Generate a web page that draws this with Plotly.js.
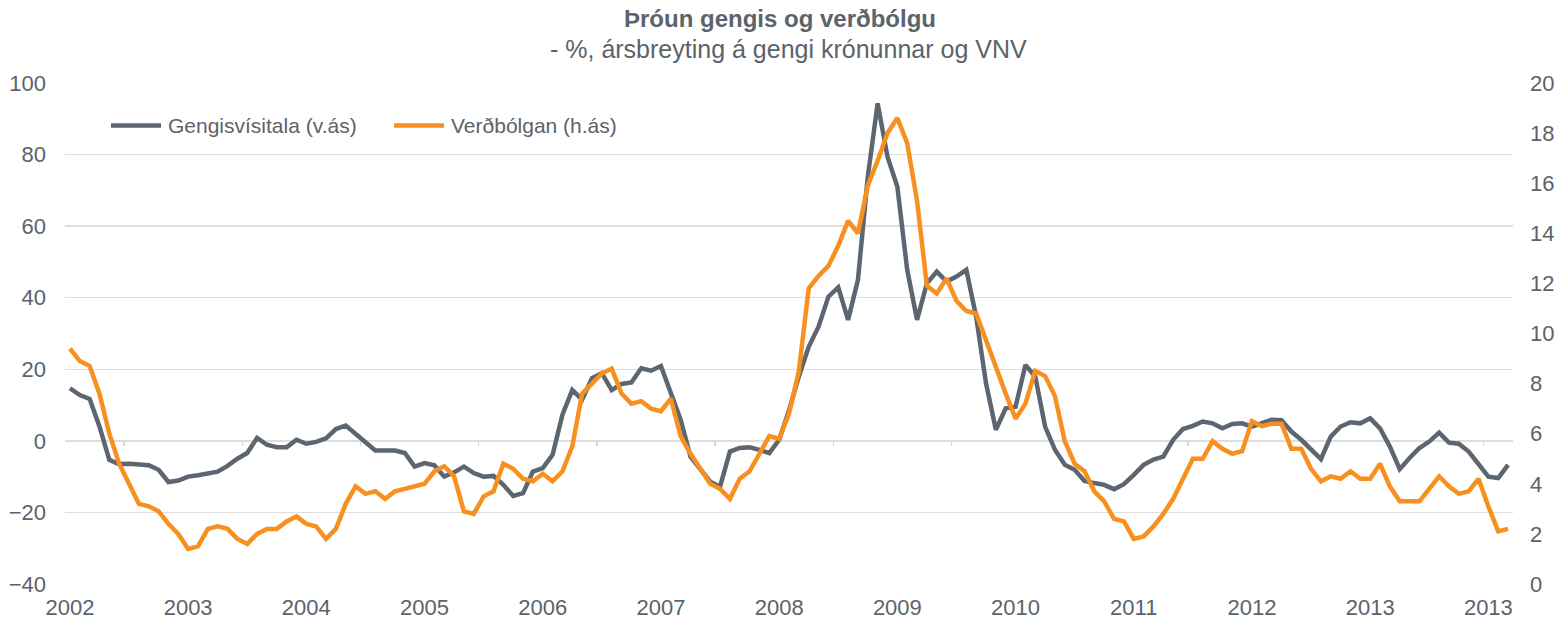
<!DOCTYPE html>
<html>
<head>
<meta charset="utf-8">
<script src="https://cdn.plot.ly/plotly-3.0.1.min.js"></script>
<style>html,body{margin:0;padding:0;background:#fff;}#chart{width:1560px;height:620px;}</style>
</head>
<body>
<div id="chart"></div>
<script>
// Monthly observations, Jan 2002 – Mar 2014
const yearLabels = ['2002','2003','2004','2005','2006','2007','2008','2009','2010','2011','2012','2013','2013'];

// Gengisvísitala, % change y/y (left axis)
const gengi = [
  14.7, 12.8, 11.7, 4.0, -5.3, -6.5, -6.4, -6.5, -6.8, -8.1, -11.5, -11.1,
  -10.0, -9.6, -9.2, -8.6, -7.0, -5.0, -3.4, 0.8, -1.1, -1.8, -1.8, 0.3,
  -0.8, -0.3, 0.7, 3.3, 4.3, 1.9, -0.4, -2.7, -2.7, -2.7, -3.4, -7.2,
  -6.2, -6.8, -10.0, -8.8, -7.2, -9.0, -10.0, -9.8, -12.3, -15.4, -14.6, -8.6,
  -7.6, -3.9, 7.3, 14.2, 11.5, 17.5, 18.9, 14.2, 15.9, 16.3, 20.3, 19.6,
  20.9, 13.3, 5.9, -4.4, -8.1, -11.4, -12.8, -3.0, -2.0, -1.8, -2.5, -3.4,
  0.3, 8.5, 18.0, 26.3, 31.9, 40.3, 42.9, 33.8, 45.0, 73.8, 94.3, 79.4,
  71.0, 47.8, 33.8, 44.0, 47.3, 44.5, 45.9, 47.8, 34.7, 16.1, 3.1, 9.1,
  9.5, 21.2, 18.0, 4.0, -2.5, -6.7, -8.1, -11.2, -11.8, -12.3, -13.5, -12.1,
  -9.5, -6.7, -5.2, -4.4, 0.3, 3.3, 4.2, 5.4, 4.9, 3.5, 4.7, 4.9,
  4.0, 4.9, 5.9, 5.8, 2.6, 0.3, -2.5, -5.1, 1.2, 4.0, 5.2, 4.9,
  6.3, 3.5, -1.6, -7.9, -4.8, -2.0, -0.2, 2.3, -0.5, -0.8, -3.0, -6.7,
  -10.0, -10.4, -6.7
];

// Verðbólgan, % (right axis)
const verdbolga = [
  9.4, 8.9, 8.7, 7.6, 6.0, 4.8, 4.0, 3.2, 3.1, 2.9, 2.4, 2.0,
  1.4, 1.5, 2.2, 2.3, 2.2, 1.8, 1.6, 2.0, 2.2, 2.2, 2.5, 2.7,
  2.4, 2.3, 1.8, 2.2, 3.2, 3.9, 3.6, 3.7, 3.4, 3.7, 3.8, 3.9,
  4.0, 4.5, 4.7, 4.3, 2.9, 2.8, 3.5, 3.7, 4.8, 4.6, 4.2, 4.1,
  4.4, 4.1, 4.5, 5.5, 7.6, 8.0, 8.4, 8.6, 7.6, 7.2, 7.3, 7.0,
  6.9, 7.4, 5.9, 5.2, 4.6, 4.0, 3.8, 3.4, 4.2, 4.5, 5.2, 5.9,
  5.8, 6.8, 8.5, 11.8, 12.3, 12.7, 13.5, 14.5, 14.0, 15.9, 16.9, 18.0,
  18.6, 17.6, 15.3, 11.9, 11.6, 12.2, 11.3, 10.9, 10.8, 9.7, 8.7, 7.6,
  6.6, 7.2, 8.5, 8.3, 7.5, 5.7, 4.8, 4.5, 3.7, 3.3, 2.6, 2.5,
  1.8, 1.9, 2.3, 2.8, 3.4, 4.2, 5.0, 5.0, 5.7, 5.4, 5.2, 5.3,
  6.5, 6.3, 6.4, 6.4, 5.4, 5.4, 4.6, 4.1, 4.3, 4.2, 4.5, 4.2,
  4.2, 4.8, 3.9, 3.3, 3.3, 3.3, 3.8, 4.3, 3.9, 3.6, 3.7, 4.2,
  3.1, 2.1, 2.2
];

const seriesNames = ['Gengisvísitala (v.ás)', 'Verðbólgan (h.ás)'];

const months = gengi.map((_, i) => i);
const yearTickVals = yearLabels.map((_, k) => k * 12);

const GREY = '#5d6670';
const ORANGE = '#f7901e';
const TEXT = '#5b636b';
const GRID = '#dedede';
const FONT = 'Liberation Sans, Arial, sans-serif';

// plot area in pixels
const L = 65, R = 1513, T = 83, B = 584;
const px = x => (x - L) / (R - L);
const py = y => (B - y) / (B - T);

const traces = [
  { x: months, y: gengi, type: 'scatter', mode: 'lines', name: seriesNames[0],
    line: { color: GREY, width: 4.5 }, xaxis: 'x', yaxis: 'y', showlegend: false, hoverinfo: 'skip' },
  { x: months, y: verdbolga, type: 'scatter', mode: 'lines', name: seriesNames[1],
    line: { color: ORANGE, width: 4.5 }, xaxis: 'x', yaxis: 'y2', showlegend: false, hoverinfo: 'skip' },
  { x: [], y: [], type: 'scatter', xaxis: 'x2', yaxis: 'y', showlegend: false, hoverinfo: 'skip' }
];

const minorTicks = [5.5, 17.5, 29.5, 41.5, 53.5, 65.5, 77.5, 89.5, 113.5, 143.5];

const layout = {
  width: 1560, height: 620,
  margin: { l: L, r: 1560 - R, t: T, b: 620 - B, pad: 0 },
  paper_bgcolor: '#ffffff', plot_bgcolor: '#ffffff',
  font: { family: FONT, color: TEXT, size: 22 },
  title: { text: '<b>Þróun gengis og verðbólgu</b>', x: 0.5, xref: 'container', y: 1 - 19 / 620, yref: 'container',
    xanchor: 'center', yanchor: 'middle', font: { family: FONT, size: 24, color: TEXT } },
  xaxis: {
    range: [-0.5, 146.5], tickvals: yearTickVals, ticktext: yearLabels,
    showgrid: false, zeroline: false, showline: false, ticks: '',
    tickfont: { size: 22, color: TEXT }, ticklabelstandoff: 8
  },
  xaxis2: {
    overlaying: 'x', anchor: 'free', position: 40 / 140, range: [-0.5, 146.5],
    tickvals: minorTicks, ticks: 'outside', ticklen: 4, tickwidth: 1.5, tickcolor: '#d6d6d6',
    showticklabels: false, showgrid: false, zeroline: false, showline: false
  },
  yaxis: {
    range: [-40, 100], dtick: 20, tick0: 0, showgrid: true, gridcolor: GRID, gridwidth: 1.5,
    zeroline: false, showline: false, ticks: '', tickfont: { size: 22, color: TEXT }, ticklabelstandoff: 18
  },
  yaxis2: {
    range: [0, 20], dtick: 2, tick0: 0, overlaying: 'y', side: 'right', showgrid: false,
    zeroline: false, showline: false, ticks: '', tickfont: { size: 22, color: TEXT }, ticklabelstandoff: 16
  },
  shapes: [
    { type: 'line', xref: 'paper', yref: 'paper', x0: px(111), x1: px(161), y0: py(125.5), y1: py(125.5),
      line: { color: GREY, width: 4.5 } },
    { type: 'line', xref: 'paper', yref: 'paper', x0: px(394), x1: px(444), y0: py(125.5), y1: py(125.5),
      line: { color: ORANGE, width: 4.5 } }
  ],
  annotations: [
    { text: '- %, ársbreyting á gengi krónunnar og VNV', xref: 'paper', yref: 'paper',
      x: px(788), y: py(49), xanchor: 'center', yanchor: 'middle', showarrow: false,
      font: { family: FONT, size: 25, color: TEXT } },
    { text: seriesNames[0], xref: 'paper', yref: 'paper', x: px(166), y: py(125.5),
      xanchor: 'left', yanchor: 'middle', showarrow: false, font: { family: FONT, size: 21, color: TEXT } },
    { text: seriesNames[1], xref: 'paper', yref: 'paper', x: px(449), y: py(125.5),
      xanchor: 'left', yanchor: 'middle', showarrow: false, font: { family: FONT, size: 21, color: TEXT } }
  ]
};

Plotly.newPlot('chart', traces, layout, { staticPlot: true, displayModeBar: false });
</script>
</body>
</html>
